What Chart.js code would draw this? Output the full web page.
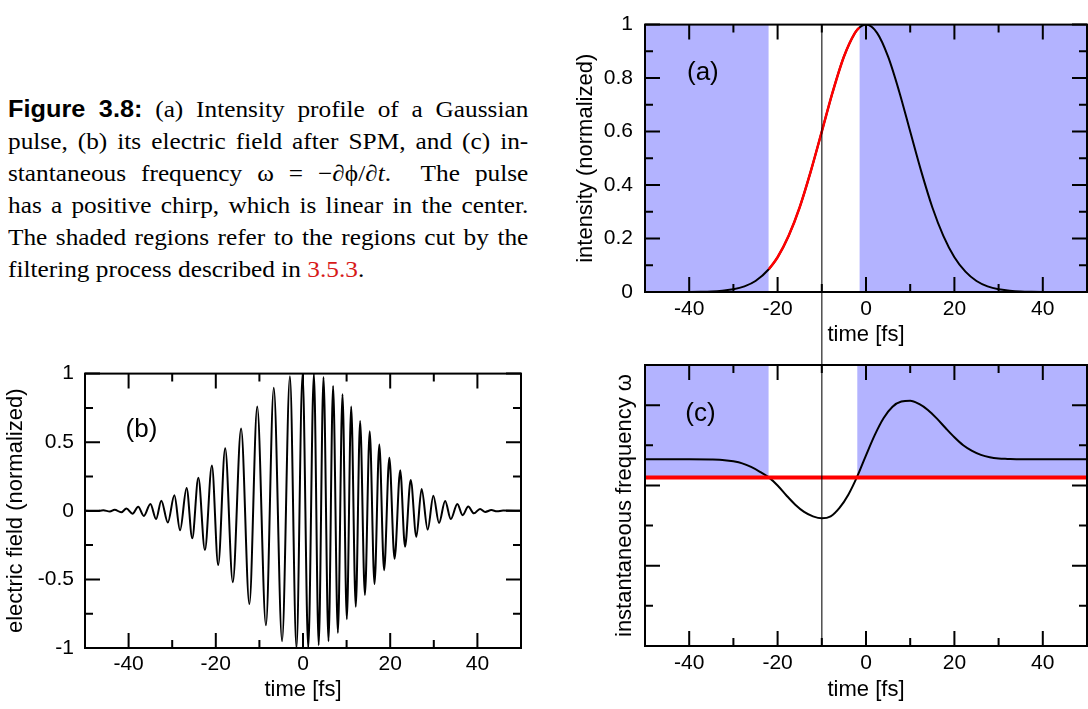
<!DOCTYPE html>
<html>
<head>
<meta charset="utf-8">
<script src="https://cdn.jsdelivr.net/npm/chart.js@4"></script>
<style>
  body { margin: 0; background: #fff; width: 1088px; height: 709px; position: relative; overflow: hidden; }
  .box { position: absolute; }
  #caption {
    position: absolute; left: 8px; top: 93px; width: 473px;
    transform: scaleX(1.1); transform-origin: 0 0;
    font: 23px/32px "Liberation Serif", "Times New Roman", serif; color: #000;
  }
  #caption .ln { text-align: justify; text-align-last: justify; }
  #caption .last { text-align-last: left; }
  #caption .fig { font-family: "Liberation Sans", Arial, sans-serif; font-weight: bold; }
  #caption .ref { color: rgb(215, 25, 25); }
</style>
</head>
<body>

<div id="caption">
  <div class="ln"><span class="fig">Figure 3.8:</span> (a) Intensity profile of a Gaussian</div>
  <div class="ln">pulse, (b) its electric field after SPM, and (c) in-</div>
  <div class="ln">stantaneous frequency ω = −∂ϕ/∂<i>t</i>.&nbsp; The pulse</div>
  <div class="ln">has a positive chirp, which is linear in the center.</div>
  <div class="ln">The shaded regions refer to the regions cut by the</div>
  <div class="ln last">filtering process described in <span class="ref">3.5.3</span>.</div>
</div>

<div class="box" style="left:570px;top:0;"><canvas id="chartA" width="518" height="350"></canvas></div>
<div class="box" style="left:0;top:350px;"><canvas id="chartB" width="540" height="359"></canvas></div>
<div class="box" style="left:570px;top:350px;"><canvas id="chartC" width="518" height="359"></canvas></div>

<script>
// ---- data ----

// (a) intensity profile
const timeA = [-50, -45, -40, -37.5, -35, -32.5, -30, -27.5, -25, -22, -20, -17.5, -15, -12.5, -10, -7.5, -5, -2.5, -1.5,
               0, 2.5, 5, 7.5, 10, 12.5, 15, 17.5, 20, 22.5, 25, 27.5, 30, 32.5, 35, 37.5, 40, 45, 50];
const intensity = [0, 0, 0.0003, 0.0008, 0.002, 0.005, 0.010, 0.021, 0.041, 0.085, 0.130, 0.210, 0.317, 0.451, 0.600, 0.750, 0.880, 0.969, 0.989,
                   1.000, 0.969, 0.880, 0.750, 0.600, 0.451, 0.317, 0.210, 0.130, 0.076, 0.041, 0.021, 0.010, 0.005, 0.002, 0.0008, 0.0003, 0, 0];
const cutA = [-22, -1.5];   // unshaded (kept) window in (a)

// (b) electric field, maxima and minima of the oscillation
const timeB = [-50, -47.2, -45.8, -44.3, -43.2, -41.7, -40.5, -39.1, -37.8, -36.5, -35.0, -33.7, -32.5, -31.0, -29.5, -28.2,
               -26.7, -25.4, -24.0, -22.5, -20.9, -19.45, -17.85, -16.1, -14.2, -12.3, -10.5, -8.5, -6.7, -4.8, -3.0, -1.5,
               -0.1, 1.2, 2.5, 3.6, 4.7, 5.85, 6.9, 8.0, 9.06, 10.05, 11.05, 12.1, 13.1, 14.2, 15.3, 16.4, 17.5, 18.6,
               19.8, 21.0, 22.3, 23.4, 24.7, 26.0, 27.2, 28.6, 29.9, 31.2, 32.6, 33.9, 35.4, 36.6, 37.9, 39.2, 40.6,
               41.8, 43.2, 44.5, 45.9, 50];
const field = [0, -0.002, 0.004, -0.005, 0.008, -0.011, 0.016, -0.021, 0.029, -0.037, 0.05, -0.06, 0.074, -0.085, 0.113, -0.142,
               0.166, -0.20, 0.24, -0.286, 0.33, -0.395, 0.456, -0.52, 0.60, -0.68, 0.76, -0.835, 0.897, -0.95, 0.98, -1.0,
               1.0, -1.0, 1.0, -0.98, 0.975, -0.95, 0.91, -0.89, 0.85, -0.79, 0.76, -0.70, 0.655, -0.613, 0.579, -0.534, 0.483, -0.433,
               0.386, -0.349, 0.296, -0.262, 0.224, -0.19, 0.159, -0.137, 0.11, -0.089, 0.072, -0.06, 0.05, -0.032, 0.031, -0.018, 0.014,
               -0.008, 0.005, -0.004, 0.002, 0];

// (c) instantaneous frequency (arbitrary units)
const timeC = [-50, -40, -35, -32, -30, -28, -26, -24, -22, -20, -18, -16, -14, -12, -10, -8, -6, -4, -2,
               0, 2, 4, 6, 8, 10, 12, 14, 16, 18, 20, 22, 24, 26, 28, 30, 32, 35, 40, 50];
const omega = [4.65, 4.65, 4.645, 4.63, 4.60, 4.55, 4.46, 4.34, 4.20, 4.00, 3.75, 3.52, 3.34, 3.23, 3.18, 3.23, 3.44, 3.77, 4.22,
               4.75, 5.26, 5.68, 5.96, 6.09, 6.11, 6.03, 5.88, 5.67, 5.43, 5.20, 5.00, 4.86, 4.76, 4.70, 4.67, 4.66, 4.65, 4.65, 4.65];
const omegaCut = 4.2;       // filter threshold (red line)
const cutC = [-22, -2];

const tMark = -10;          // vertical marker through (a) and (c)

// tick values
const timeTicks = [-40, -20, 0, 20, 40];
const timeMinor = [-30, -10, 10, 30];
const ticksA = [0, 0.2, 0.4, 0.6, 0.8, 1];
const minorA = [0.1, 0.3, 0.5, 0.7, 0.9];
const ticksB = [-1, -0.5, 0, 0.5, 1];
const minorB = [-0.75, -0.25, 0.25, 0.75];
const ticksC = [0, 2, 4, 6];
const minorC = [1, 3, 5, 7];

// ---- drawing ----
Chart.defaults.font.family = '"Liberation Sans", Arial, sans-serif';
Chart.defaults.color = '#000';
const SHADE = '#b3b3ff';
const tickFont = {size: 21};
const titleFont = {size: 22};

function pts(xs, ys) {
  return xs.map((x, i) => ({x: x, y: ys[i]}));
}

// frame with inward ticks on all sides, marker line and panel label
const framePlugin = {
  id: 'frame',
  afterDatasetsDraw(chart, args, o) {
    const {ctx, chartArea: a, scales: {x, y}} = chart;
    ctx.save();
    if (o.mark !== undefined) {
      const px = x.getPixelForValue(o.mark);
      ctx.strokeStyle = 'rgba(0,0,0,0.7)';
      ctx.lineWidth = 1.5;
      ctx.beginPath();
      ctx.moveTo(px, o.markUp ? 0 : a.top);
      ctx.lineTo(px, o.markUp ? a.bottom : chart.height);
      ctx.stroke();
    }
    ctx.strokeStyle = '#000';
    ctx.lineWidth = 2;
    ctx.beginPath();
    const xt = (vals, len) => vals.forEach(v => {
      const px = x.getPixelForValue(v);
      ctx.moveTo(px, a.bottom); ctx.lineTo(px, a.bottom - len);
      ctx.moveTo(px, a.top); ctx.lineTo(px, a.top + len);
    });
    const yt = (vals, len) => vals.forEach(v => {
      const py = y.getPixelForValue(v);
      ctx.moveTo(a.left, py); ctx.lineTo(a.left + len, py);
      ctx.moveTo(a.right, py); ctx.lineTo(a.right - len, py);
    });
    xt(o.xMajor, 15); xt(o.xMinor, 8);
    yt(o.yMajor, 15); yt(o.yMinor, 8);
    ctx.stroke();
    ctx.strokeRect(a.left, a.top, a.right - a.left, a.bottom - a.top);
    ctx.font = '26px "Liberation Sans", Arial, sans-serif';
    ctx.fillStyle = '#000';
    ctx.textBaseline = 'middle';
    ctx.fillText(o.label, x.getPixelForValue(o.labelAt[0]), y.getPixelForValue(o.labelAt[1]));
    ctx.restore();
  }
};

function shade(x0, x1, yLow, yHigh) {
  return {
    data: [{x: x0, y: yHigh}, {x: x1, y: yHigh}],
    fill: {value: yLow}, backgroundColor: SHADE, borderWidth: 0, pointRadius: 0, order: 5
  };
}

function curve(data, color, width, order) {
  return {
    data: data, borderColor: color, borderWidth: width, pointRadius: 0,
    cubicInterpolationMode: 'monotone', fill: false, order: order
  };
}

function makeChart(id, o) {
  return new Chart(document.getElementById(id), {
    type: 'line',
    data: {datasets: o.datasets},
    options: {
      responsive: false, animation: false, devicePixelRatio: 1,
      layout: {padding: o.padding},
      plugins: {legend: {display: false}, tooltip: {enabled: false}, frame: o.frame},
      scales: {
        x: {
          type: 'linear', min: -50, max: 50,
          grid: {display: false, drawTicks: false}, border: {display: false},
          ticks: {font: tickFont, padding: o.xPad, maxRotation: 0, autoSkip: false, callback: v => String(v)},
          afterBuildTicks: s => { s.ticks = timeTicks.map(v => ({value: v})); },
          afterFit: s => { s.height = o.xHeight; },
          title: {display: true, text: 'time [fs]', font: titleFont, padding: {top: 0, bottom: o.xTitlePad}}
        },
        y: {
          type: 'linear', min: o.yMin, max: o.yMax,
          grid: {display: false, drawTicks: false}, border: {display: false},
          ticks: {display: o.yLabels, font: tickFont, padding: o.yPad, autoSkip: false, callback: v => String(v)},
          afterBuildTicks: s => { s.ticks = o.yTicks.map(v => ({value: v})); },
          afterFit: s => { s.width = o.yWidth; },
          title: {display: true, text: o.yTitle, font: titleFont, padding: {top: o.yTitlePad, bottom: 0}}
        }
      }
    },
    plugins: [framePlugin]
  });
}

// (a)
const curveA = pts(timeA, intensity);
makeChart('chartA', {
  datasets: [
    curve(curveA.filter(p => p.x >= cutA[0] && p.x <= cutA[1]), '#ff0000', 2.5, 0),
    curve(curveA, '#000', 2, 1),
    shade(-50, cutA[0], 0, 1),
    shade(cutA[1], 50, 0, 1)
  ],
  padding: {top: 11, right: 1, left: 0, bottom: 0},
  xHeight: 58, xPad: 5, xTitlePad: 2,
  yMin: 0, yMax: 1, yTicks: ticksA, yLabels: true, yPad: 12, yWidth: 75, yTitlePad: 3,
  yTitle: 'intensity (normalized)',
  frame: {xMajor: timeTicks, xMinor: timeMinor, yMajor: ticksA, yMinor: minorA,
          mark: tMark, markUp: false, label: '(a)', labelAt: [-40.5, 0.82]}
});

// (b)
makeChart('chartB', {
  datasets: [curve(pts(timeB, field), '#000', 2, 1)],
  padding: {top: 20, right: 19, left: 0, bottom: 0},
  xHeight: 61, xPad: 4, xTitlePad: 6,
  yMin: -1, yMax: 1, yTicks: ticksB, yLabels: true, yPad: 11, yWidth: 85, yTitlePad: 3,
  yTitle: 'electric field (normalized)',
  frame: {xMajor: timeTicks, xMinor: timeMinor, yMajor: ticksB, yMinor: minorB,
          label: '(b)', labelAt: [-40.7, 0.59]}
});

// (c)
makeChart('chartC', {
  datasets: [
    curve([{x: -50, y: omegaCut}, {x: 50, y: omegaCut}], '#ff0000', 4, 0),
    curve(pts(timeC, omega), '#000', 2, 1),
    shade(-50, cutC[0], omegaCut, 7),
    shade(cutC[1], 50, omegaCut, 7)
  ],
  padding: {top: 15, right: 1, left: 0, bottom: 0},
  xHeight: 63, xPad: 5, xTitlePad: 6,
  yMin: 0, yMax: 7, yTicks: ticksC, yLabels: false, yPad: 0, yWidth: 75, yTitlePad: 42,
  yTitle: 'instantaneous frequency ω',
  frame: {xMajor: timeTicks, xMinor: timeMinor, yMajor: ticksC, yMinor: minorC,
          mark: tMark, markUp: true, label: '(c)', labelAt: [-40.9, 5.78]}
});
</script>
</body>
</html>
